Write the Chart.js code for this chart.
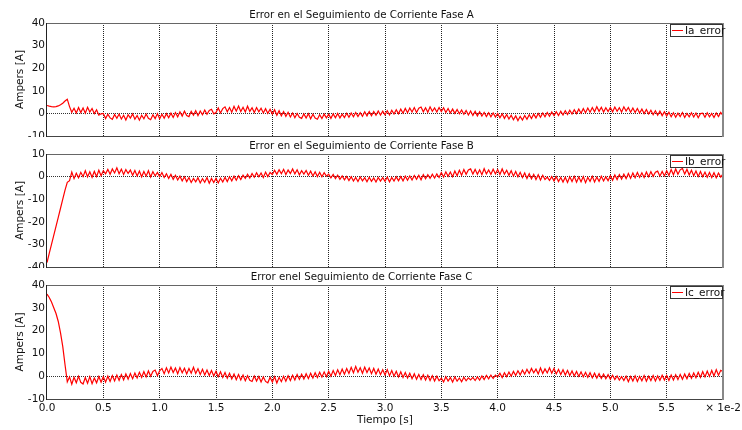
<!DOCTYPE html>
<html>
<head>
<meta charset="utf-8">
<script src="https://cdn.jsdelivr.net/npm/chart.js@4.4.0/dist/chart.umd.min.js"></script>
<style>
  body { margin: 0; background: #fff; width: 742px; height: 430px; overflow: hidden; position: relative; }
  canvas { position: absolute; left: 0; }
</style>
</head>
<body>
<canvas id="faseA" width="742" height="137" style="top:0px"></canvas>
<canvas id="faseB" width="742" height="137" style="top:131px"></canvas>
<canvas id="faseC" width="742" height="168" style="top:262px"></canvas>
<script>
  // muestras cada 0.02 (x 1e-2 s), de 0.0 a 6.0
  const iaError = [
    3.5,3.2,3.0,2.9,3.0,3.3,3.8,4.5,5.5,6.3,3.0,0.5,2.3,0.2,2.6,0.4,2.4,0.1,2.7,0.6,2.2,-0.1,1.6,-0.8,-0.2,
    0.0,-2.3,-0.4,-2.0,-2.6,-0.5,-2.2,-0.3,-2.5,-0.8,-2.9,-0.6,-2.1,-0.2,-2.6,-0.9,-3.0,-0.8,-2.4,-0.3,-2.2,-2.8,-0.6,-2.3,-0.1,
    -2.4,-0.4,-2.1,-0.1,-1.9,0.1,-1.8,0.4,-1.5,0.7,-1.2,1.0,-0.9,-1.4,0.9,-0.8,1.2,-1.0,1.1,-0.6,1.5,-0.4,1.3,1.8,-0.2,
    0.4,2.4,0.2,2.1,2.9,0.7,2.6,0.5,3.1,1.0,3.3,0.8,2.7,0.6,3.2,0.9,2.5,0.4,2.6,0.7,2.3,0.2,2.1,0.0,1.8,
    -0.3,1.6,-0.8,1.2,-1.1,0.8,-1.3,0.5,-1.6,0.2,-1.9,0.0,-1.7,-2.2,-0.2,-2.0,-0.1,-2.4,-0.4,-2.1,-2.6,-0.6,-2.3,-0.3,-2.0,
    -0.4,-2.2,-0.2,-1.9,0.0,-2.0,-0.3,-1.8,0.1,-1.7,0.2,-1.5,0.4,-1.4,0.3,-1.3,0.7,-1.1,0.8,-1.0,0.9,-0.8,1.1,-0.7,1.0,
    -0.6,1.2,-0.7,1.4,-0.3,1.6,-0.2,1.9,0.1,2.2,0.3,2.4,0.6,2.6,0.4,2.3,2.8,0.7,2.5,0.5,2.9,0.9,2.4,0.6,2.6,
    0.8,2.5,0.4,2.2,0.2,1.9,0.0,1.7,-0.2,1.5,-0.4,1.3,-0.7,1.1,-0.9,0.9,-1.1,0.7,-1.2,0.4,-1.4,0.3,-1.5,0.2,-1.6,
    0.0,-1.9,-0.2,-2.2,-0.5,-2.5,-0.8,-2.8,-1.1,-3.2,-1.3,-2.9,-0.9,-2.6,-0.6,-2.3,-0.3,-2.0,0.0,-1.7,0.2,-1.5,0.4,-1.3,0.6,
    -1.0,0.8,-0.9,1.0,-0.7,1.2,-0.5,1.4,-0.3,1.6,-0.1,1.9,0.1,2.1,0.3,2.4,0.5,2.6,0.7,3.0,0.9,2.7,0.6,2.5,0.8,
    2.6,0.7,2.8,0.9,2.5,0.6,2.9,1.0,2.6,0.5,2.4,0.4,2.2,0.2,1.9,-0.1,1.7,-0.3,1.4,-0.6,1.2,-0.8,1.0,-1.0,0.7,
    -1.2,0.5,-1.5,0.3,-1.7,0.1,-1.4,0.4,-1.8,0.0,-1.5,0.3,-1.6,0.2,-1.9,-0.1,0.1,-1.7,0.3,-1.5,0.0,-1.8,0.2,-1.4,0.4,
    -1.0
  ];
  const ibError = [
    -38,-34,-30,-26,-22,-18,-14,-10,-6,-2.5,-1.8,2.0,-0.9,1.5,-0.5,1.9,0.0,2.6,-0.1,2.1,-0.3,2.3,0.0,2.8,0.4,
    2.6,1.2,3.2,1.0,3.4,1.6,3.9,1.3,3.3,0.9,3.1,1.4,2.9,0.6,2.7,0.3,2.5,-0.1,2.3,0.2,2.6,-0.2,2.2,0.3,1.8,
    -0.1,1.8,-0.4,1.3,-0.8,1.0,-1.2,0.6,-1.5,0.2,-1.9,-0.1,-2.2,-0.4,-2.6,-0.8,-2.3,-0.5,-2.8,-0.9,-2.5,-0.4,-2.9,-0.8,-2.6,
    -0.8,-2.8,-0.7,-2.4,-0.3,-2.2,-0.1,-1.9,0.2,-1.6,0.4,-1.3,0.6,-0.8,1.1,-0.6,1.4,-0.3,1.7,-0.1,1.6,-0.4,2.0,0.0,1.8,
    0.9,2.8,1.0,3.0,1.3,3.2,0.9,2.9,1.4,3.4,1.2,3.0,0.8,2.6,1.1,2.7,0.6,2.4,0.3,2.1,0.0,1.9,-0.1,1.7,0.2,
    1.1,-0.6,1.0,-0.9,0.6,-1.2,0.3,-1.4,0.1,-1.7,-0.1,-2.0,-0.4,-2.2,-0.2,-1.9,-0.5,-2.3,-0.3,-2.1,-0.6,-2.4,-0.4,-2.0,-0.5,
    -2.1,-0.2,-2.3,-0.4,-2.0,-0.1,-1.8,0.0,-1.9,0.2,-1.6,0.3,-1.5,0.5,-1.2,0.6,-1.4,0.9,-1.0,0.8,-0.8,1.1,-0.6,1.2,-0.4,
    1.8,-0.2,2.1,0.1,2.0,-0.1,2.5,0.4,2.8,0.6,3.1,1.0,2.9,3.4,1.1,3.2,1.0,3.0,0.8,3.5,1.2,2.9,1.0,3.3,1.2,
    3.1,0.9,3.4,1.1,2.8,0.6,2.6,0.2,2.3,-0.1,1.9,-0.4,1.6,-0.8,1.3,-1.0,1.0,-1.3,0.8,-1.5,0.6,-1.3,-0.2,-1.7,0.0,
    -1.9,0.0,-2.2,-0.4,-2.4,-0.3,-2.6,-0.1,-2.2,0.1,-2.5,-0.2,-2.3,0.0,-2.7,-0.3,-2.1,0.1,-2.4,-0.2,-2.1,0.2,-1.9,-0.1,-1.8,
    0.4,-1.6,0.7,-1.3,0.9,-1.1,1.1,-0.9,1.4,-0.7,1.6,-0.5,1.8,-0.3,1.7,-0.4,2.0,-0.1,2.2,0.1,1.9,2.4,0.2,2.3,0.3,
    2.6,0.5,3.1,0.8,3.4,1.0,3.0,3.6,1.1,3.2,0.7,2.8,0.4,2.5,0.1,2.3,-0.1,2.0,-0.3,1.8,-0.4,1.7,-0.5,1.6,-0.2,
    1.2
  ];
  const icError = [
    36,34.5,32.5,30,27.5,24,19,13,5,-2.5,-0.3,-3.5,-0.5,-2.9,0.0,-2.7,-3.4,-0.6,-3.1,-0.2,-3.3,-0.8,-2.9,-0.1,-2.6,
    -0.2,-2.6,0.0,-2.3,0.3,-2.1,0.5,-1.8,0.7,-1.6,1.0,-1.3,1.2,-1.1,1.4,-0.8,1.7,-0.5,2.0,-0.3,2.3,0.0,2.1,2.7,0.2,
    2.4,3.4,1.1,3.7,1.4,4.0,1.6,3.6,1.1,3.8,1.5,3.5,1.0,3.4,1.3,3.9,1.2,3.3,0.8,3.0,0.5,2.7,0.3,2.5,0.1,
    2.2,-0.2,1.9,-0.6,1.6,-0.9,1.3,-1.2,1.0,-1.5,0.7,-1.7,0.5,-2.0,0.2,-1.8,-2.3,0.1,-2.1,-0.1,-2.5,-0.3,-2.3,-2.9,-0.5,
    -2.6,-0.2,-3.0,-0.5,-2.4,0.0,-2.2,0.2,-1.9,0.4,-1.7,0.7,-1.4,0.9,-1.2,1.1,-1.0,1.3,-0.8,1.5,-0.6,1.7,-0.4,1.9,-0.2,
    2.2,0.0,2.5,0.3,2.8,0.6,3.1,0.9,3.4,1.2,3.9,1.5,4.3,1.7,3.7,1.3,4.0,1.6,3.6,1.1,3.4,0.9,3.1,0.7,2.8,
    0.5,2.9,0.2,2.5,0.0,2.2,-0.3,1.9,-0.6,1.6,-0.8,1.3,-1.1,1.1,-1.3,0.8,-1.5,0.6,-1.7,0.4,-1.9,0.2,-2.1,0.0,-2.0,
    -0.9,-2.5,-0.2,-2.1,-0.6,-2.6,-0.3,-2.2,-0.8,-2.4,-0.4,-2.0,-0.7,-1.6,-0.5,-1.9,-0.3,-1.7,0.1,-1.5,0.3,-1.2,0.5,-1.0,0.5,
    -0.3,1.3,-0.6,1.5,-0.2,1.8,0.0,2.1,0.3,2.4,0.6,2.7,0.9,3.0,1.2,3.4,1.5,3.1,1.0,3.6,1.2,3.2,1.4,3.7,1.3,
    3.4,1.0,3.0,0.7,2.8,0.5,2.5,0.3,2.3,0.1,2.1,-0.1,1.9,-0.3,1.7,-0.5,1.5,-0.7,1.3,-0.8,1.1,-1.0,0.9,-1.1,0.7,
    -1.3,0.4,-1.5,0.1,-1.7,-0.2,-1.9,0.0,-2.4,-0.1,-2.1,0.2,-2.3,-0.1,-2.0,0.3,-2.2,0.0,-1.9,0.3,-2.1,0.1,-1.8,0.4,-1.7,
    0.3,-1.9,0.5,-1.7,0.6,-1.5,0.8,-1.3,1.0,-1.1,1.2,-0.9,1.4,-0.7,1.7,-0.5,2.0,-0.3,2.2,-0.1,2.5,0.1,2.9,0.4,2.6,
    2.0
  ];
  const tiempo = iaError.map((_, i) => +(i * 0.02).toFixed(2));
  const titulos = [
    "Error en el Seguimiento de Corriente Fase A",
    "Error en el Seguimiento de Corriente Fase B",
    "Error enel Seguimiento de Corriente Fase C"
  ];
  const etiquetas = ["Ia_error", "Ib_error", "Ic_error"];

  Chart.defaults.font.family = '"DejaVu Sans", Verdana, sans-serif';
  Chart.defaults.font.size = 10.5;
  Chart.defaults.color = '#111';

  // marco del area de trazado
  const marco = {
    id: 'marco',
    afterDatasetsDraw(chart) {
      const { ctx, chartArea: { left, top, right, bottom } } = chart;
      ctx.save();
      ctx.lineWidth = 1;
      ctx.strokeStyle = '#666';
      ctx.beginPath(); ctx.moveTo(left, top + 0.5); ctx.lineTo(right, top + 0.5); ctx.stroke();
      ctx.strokeStyle = '#444';
      ctx.beginPath(); ctx.moveTo(left, bottom + 0.5); ctx.lineTo(right, bottom + 0.5); ctx.stroke();
      ctx.strokeStyle = '#222';
      ctx.beginPath(); ctx.moveTo(left - 0.5, top); ctx.lineTo(left - 0.5, bottom + 1); ctx.stroke();
      ctx.strokeStyle = '#888';
      ctx.lineWidth = 2;
      ctx.beginPath(); ctx.moveTo(right, top); ctx.lineTo(right, bottom + 1); ctx.stroke();
      ctx.restore();
    }
  };

  // leyenda con caja dentro del area
  const cajaLeyenda = {
    id: 'cajaLeyenda',
    afterDraw(chart) {
      const { ctx, chartArea: a } = chart;
      const ds = chart.data.datasets[0];
      const x0 = Math.round(a.right) - 53, y0 = Math.round(a.top) + 1;
      ctx.save();
      ctx.fillStyle = '#fff';
      ctx.fillRect(x0, y0, 52, 12);
      ctx.strokeStyle = '#333';
      ctx.lineWidth = 1;
      ctx.strokeRect(x0 + 0.5, y0 + 0.5, 52, 12);
      ctx.strokeStyle = 'rgb(255,0,0)';
      ctx.beginPath(); ctx.moveTo(x0 + 2, y0 + 6.5); ctx.lineTo(x0 + 13, y0 + 6.5); ctx.stroke();
      ctx.fillStyle = '#111';
      ctx.font = '10.5px "DejaVu Sans"';
      ctx.textBaseline = 'middle';
      ctx.fillText(ds.label, x0 + 15, y0 + 7);
      ctx.restore();
    }
  };

  function crearPanel(id, titulo, etiqueta, valores, yMin, yMax, ultimo) {
    return new Chart(document.getElementById(id), {
      type: 'line',
      data: {
        datasets: [{
          label: etiqueta,
          data: valores.map((v, i) => ({ x: tiempo[i], y: v })),
          borderColor: 'rgb(255,0,0)',
          borderWidth: 1.2,
          pointRadius: 0,
          tension: 0,
          fill: false
        }]
      },
      options: {
        responsive: false,
        animation: false,
        layout: { padding: { left: 0, right: 19, top: 0, bottom: 0 } },
        plugins: {
          legend: { display: false },
          tooltip: { enabled: false },
          title: {
            display: true, text: titulo, color: '#111',
            font: { size: 10.25, weight: 'normal', lineHeight: 1.2 },
            padding: { top: 9, bottom: 1.7 }
          }
        },
        scales: {
          x: {
            type: 'linear', min: 0, max: 6,
            ticks: {
              stepSize: 0.5, display: ultimo, autoSkip: false, maxRotation: 0, padding: 3,
              callback: v => v === 6 ? '× 1e-2' : v.toFixed(1)
            },
            grid: {
              drawTicks: false, lineWidth: 1, borderDash: [1, 1],
              color: c => (c.tick && (c.tick.value === 0 || c.tick.value === 6)) ? 'rgba(0,0,0,0)' : '#222'
            },
            border: { display: false, dash: [1, 1] },
            title: { display: ultimo, text: 'Tiempo [s]', padding: { top: 0, bottom: 3 } },
            afterFit: s => { s.height = ultimo ? 31 : 1; s.paddingLeft = 0; s.paddingRight = 0; }
          },
          y: {
            min: yMin, max: yMax,
            ticks: { stepSize: 10, padding: 2 },
            grid: {
              drawTicks: false, lineWidth: 1, borderDash: [1, 1],
              color: c => (c.tick && c.tick.value === 0) ? '#333' : 'rgba(0,0,0,0)'
            },
            border: { display: false, dash: [1, 1] },
            title: { display: true, text: 'Ampers [A]', padding: { top: 14, bottom: 0 } },
            afterFit: s => { s.width = 47; s.paddingTop = 0; s.paddingBottom = 0; }
          }
        }
      },
      plugins: [marco, cajaLeyenda]
    });
  }

  crearPanel("faseA", titulos[0], etiquetas[0], iaError, -10, 40, false);
  crearPanel("faseB", titulos[1], etiquetas[1], ibError, -40, 10, false);
  crearPanel("faseC", titulos[2], etiquetas[2], icError, -10, 40, true);
</script>
</body>
</html>
